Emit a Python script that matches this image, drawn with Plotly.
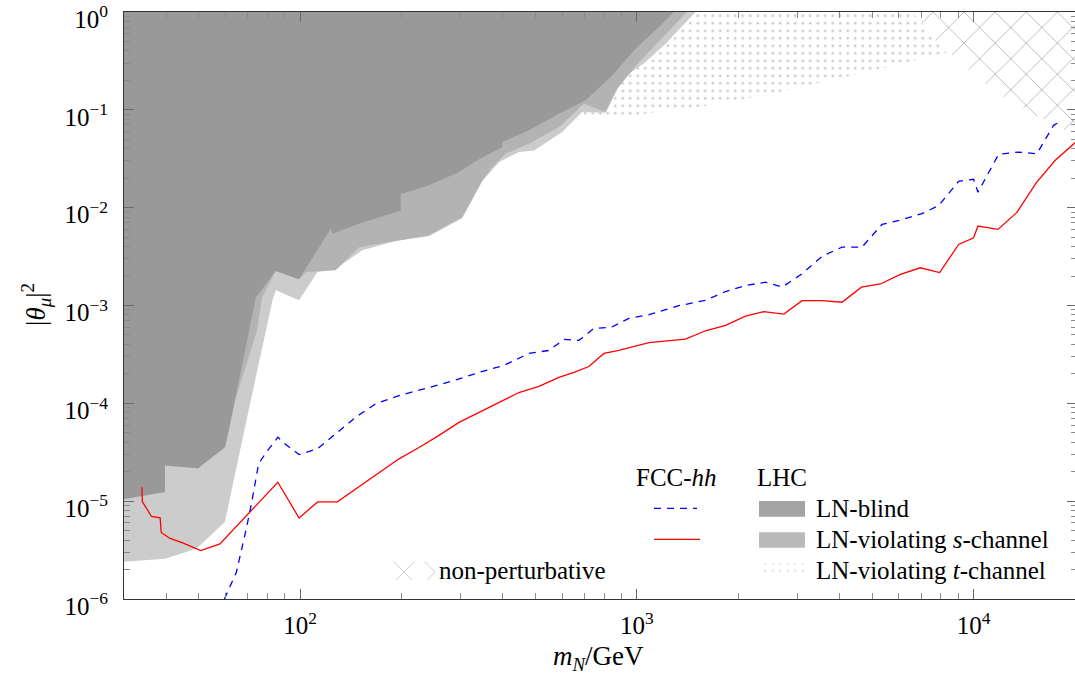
import plotly.graph_objects as go

# ---------------- data ----------------
# FCC-hh, dashed blue
fcc_dash_m = [59.6, 64.7, 69.2, 71.7, 75.3, 79.4, 85.9, 90.1, 99.3, 112.6, 127.6, 146.3, 167.8,
              196.7, 241.4, 286.4, 339.8, 402.9, 478.1, 548.0, 607.3, 672.9, 745.5, 837.1, 947.0,
              1086, 1332, 1599, 1834, 2102, 2409, 2699, 3094, 3546, 4067, 4662, 5345, 6128, 7024,
              7873, 9026, 10000, 10300, 11865, 13600, 15410, 17275, 18100]
fcc_dash_theta = [1.0e-6, 1.88e-6, 5.20e-6, 9.40e-6, 2.41e-5, 3.17e-5, 4.51e-5, 3.86e-5, 2.99e-5,
                  3.43e-5, 4.89e-5, 7.23e-5, 9.9e-5, 1.20e-4, 1.45e-4, 1.71e-4, 2.07e-4, 2.44e-4,
                  3.24e-4, 3.47e-4, 4.50e-4, 4.40e-4, 5.83e-4, 5.97e-4, 7.38e-4, 8.05e-4, 9.95e-4,
                  1.13e-3, 1.39e-3, 1.60e-3, 1.73e-3, 1.54e-3, 2.11e-3, 3.18e-3, 3.95e-3, 3.95e-3,
                  6.75e-3, 7.54e-3, 8.69e-3, 1.05e-2, 1.86e-2, 1.95e-2, 1.44e-2, 3.51e-2, 3.70e-2,
                  3.56e-2, 6.94e-2, 7.6e-2]

# FCC-hh, solid red
fcc_solid_m = [33.9, 34.0, 36.2, 38.4, 38.7, 41.1, 45.0, 50.7, 57.8, 85.9, 99.3, 112.7, 129.0,
               146.3, 196.7, 225.5, 258.5, 296.4, 339.8, 389.4, 446.6, 512.0, 586.8, 650.3, 720.5,
               798.2, 884.5, 1086, 1394, 1599, 1834, 2102, 2382, 2731, 3094, 3546, 4067, 4643,
               5286, 6061, 6947, 7927, 9026, 10000, 10300, 11810, 13446, 15355, 17475, 20000]
fcc_solid_theta = [1.39e-5, 9.93e-6, 6.97e-6, 6.76e-6, 4.79e-6, 4.16e-6, 3.72e-6, 3.13e-6, 3.66e-6,
                   1.56e-5, 6.73e-6, 9.82e-6, 9.86e-6, 1.34e-5, 2.71e-5, 3.54e-5, 4.70e-5, 6.38e-5,
                   8.07e-5, 1.02e-4, 1.29e-4, 1.49e-4, 1.84e-4, 2.07e-4, 2.38e-4, 3.24e-4, 3.47e-4,
                   4.17e-4, 4.53e-4, 5.52e-4, 6.26e-4, 7.79e-4, 8.65e-4, 8.17e-4, 1.12e-3, 1.12e-3,
                   1.08e-3, 1.54e-3, 1.66e-3, 2.08e-3, 2.43e-3, 2.17e-3, 4.21e-3, 4.93e-3, 6.48e-3,
                   6.00e-3, 8.95e-3, 1.80e-2, 3.05e-2, 4.6e-2]

# LHC, LN-blind (lower edge of excluded region)
blind_m = [29, 39.7, 39.7, 49.8, 59.8, 60.8, 73.9, 84.6, 99.3, 123.3, 124.7, 149.7, 199.0, 199.0,
           241.4, 296.4, 339.8, 398.3, 398.3, 478.1, 586.8, 704.4, 844.7, 991, 1162, 1288]
blind_theta = [1.03e-5, 1.24e-5, 2.32e-5, 2.17e-5, 3.56e-5, 4.51e-5, 1.21e-3, 2.25e-3, 1.85e-3,
               6.10e-3, 5.42e-3, 6.86e-3, 9.38e-3, 1.37e-2, 1.69e-2, 2.31e-2, 3.12e-2, 4.14e-2,
               4.69e-2, 6.17e-2, 9.14e-2, 0.125, 0.225, 0.422, 0.703, 1.0]

# LHC, LN-violating s-channel (two analyses)
s1_m = [29, 39.7, 39.7, 49.8, 59.8, 60.8, 64.1, 74.5, 77.1, 84.6, 99.3, 104.0, 127.6, 149.7, 171.6,
        196.7, 241.4, 303.1, 347.5, 372.0, 407.7, 478.1, 586.8, 696.2, 807.4, 874.2, 1013.7, 1203, 1407]
s1_theta = [1.03e-5, 1.24e-5, 2.32e-5, 2.17e-5, 3.56e-5, 4.51e-5, 1.07e-4, 5.56e-4, 1.21e-3, 2.25e-3,
            1.85e-3, 2.20e-3, 2.29e-3, 3.93e-3, 4.28e-3, 4.63e-3, 5.21e-3, 8.01e-3, 1.90e-2, 2.60e-2,
            3.56e-2, 4.51e-2, 6.62e-2, 0.1157, 9.50e-2, 0.1647, 0.306, 0.564, 1.0]
s2_m = [29, 39.7, 49.2, 59.8, 69.3, 82.8, 84.7, 99.3, 112.6, 127.6, 153.0, 192.3, 241.4, 303.1,
        347.5, 372.0, 389.4, 446.6, 494.8, 600.2, 688.2, 807.4, 904.6, 1061, 1217, 1494]
s2_theta = [2.38e-6, 2.58e-6, 3.26e-6, 6.13e-6, 6.68e-5, 1.13e-3, 1.43e-3, 1.13e-3, 2.20e-3, 2.39e-3,
            3.66e-3, 4.55e-3, 5.09e-3, 7.78e-3, 1.86e-2, 2.41e-2, 2.92e-2, 3.70e-2, 3.85e-2, 5.93e-2,
            9.50e-2, 9.31e-2, 0.208, 0.308, 0.475, 1.0]

# LHC, LN-violating t-channel (lower edge)
t_m = [586.8, 704.4, 968.5, 1528, 2409, 3390, 5345, 7698, 11865, 21000]
t_theta = [7.45e-2, 8.13e-2, 8.79e-2, 0.1068, 0.1407, 0.1853, 0.2638, 0.3608, 0.514, 0.731]

# non-perturbative region (lower edge)
np_m = [6560, 7698, 9450, 11865, 15594, 18712, 21000]
np_theta = [1.0, 0.513, 0.274, 0.1464, 8.44e-2, 6.17e-2, 6.0e-2]

x_tick_vals = [100, 1000, 10000]
x_tick_text = ["10<sup>2</sup>", "10<sup>3</sup>", "10<sup>4</sup>"]
y_tick_vals = [1e-6, 1e-5, 1e-4, 1e-3, 1e-2, 1e-1, 1]
y_tick_text = ["10<sup>−6</sup>", "10<sup>−5</sup>", "10<sup>−4</sup>", "10<sup>−3</sup>",
               "10<sup>−2</sup>", "10<sup>−1</sup>", "10<sup>0</sup>"]

# ---------------- styling ----------------
FONT = "Liberation Serif"
FS = 25
FS_TITLE = 27
DARK = "#999999"
MID = "#b3b3b3"
LIGHT = "#cccccc"
W, H = 1077, 677          # plot frame runs 2 px past the window so the right border is hidden
ML, MR, MT, MB = 124, 0, 12, 78
PW, PH = W - ML - MR, H - MT - MB
X_RANGE = [1.47712, 4.30103 + 2 / 337]


def px(xp):
    return (xp - ML) / PW


def py(yp):
    return (H - MB - yp) / PH


def close_top(xs, ys, top=1.4):
    return list(xs) + [xs[-1], xs[0]], list(ys) + [top, top]


fig = go.Figure()

DOTS = dict(shape=".", size=7.5, solidity=0.12, fgcolor="#999999", bgcolor="rgba(255,255,255,0)")
HATCH = dict(shape="x", size=22, solidity=0.08, fgcolor="#707070", bgcolor="white")

# t-channel dotted region
tx, ty = close_top(t_m, t_theta)
fig.add_trace(go.Scatter(x=tx, y=ty, mode="lines", fill="toself", line=dict(width=0),
                         fillcolor="rgba(255,255,255,0)", fillpattern=DOTS,
                         hoverinfo="skip", showlegend=False))

for xs, ys, col in [(s2_m, s2_theta, LIGHT), (s1_m, s1_theta, MID), (blind_m, blind_theta, DARK)]:
    cx, cy = close_top(xs, ys)
    fig.add_trace(go.Scatter(x=cx, y=cy, mode="lines", fill="toself", line=dict(width=0),
                             fillcolor=col, hoverinfo="skip", showlegend=False))

# non-perturbative crosshatch
nx, ny = close_top(np_m, np_theta)
fig.add_trace(go.Scatter(x=nx, y=ny, mode="lines", fill="toself", line=dict(width=0),
                         fillcolor="white", fillpattern=HATCH,
                         hoverinfo="skip", showlegend=False))

fig.add_trace(go.Scatter(x=fcc_solid_m, y=fcc_solid_theta, mode="lines",
                         line=dict(color="#ff0000", width=1.3), hoverinfo="skip", showlegend=False))
fig.add_trace(go.Scatter(x=fcc_dash_m, y=fcc_dash_theta, mode="lines",
                         line=dict(color="#0000ff", width=1.3, dash="7px,6px"),
                         hoverinfo="skip", showlegend=False))


# legend swatches with patterns (on an overlay axis in plot-fraction units)
def rect(x0, x1, y0, y1):
    return [px(x0), px(x1), px(x1), px(x0), px(x0)], [py(y0), py(y0), py(y1), py(y1), py(y0)]


rx, ry = rect(759, 805, 563, 577)
fig.add_trace(go.Scatter(x=rx, y=ry, xaxis="x2", yaxis="y2", mode="lines", fill="toself",
                         line=dict(width=0), fillcolor="rgba(255,255,255,0)",
                         fillpattern=dict(DOTS, fgcolor="#c8c8c8"),
                         hoverinfo="skip", showlegend=False))
rx, ry = rect(388, 435, 561, 580)
fig.add_trace(go.Scatter(x=rx, y=ry, xaxis="x2", yaxis="y2", mode="lines", fill="toself",
                         line=dict(width=0), fillcolor="white",
                         fillpattern=dict(HATCH, fgcolor="#909090"),
                         hoverinfo="skip", showlegend=False))

shapes = [
    dict(type="line", xref="paper", yref="paper", x0=px(654), x1=px(697), y0=py(508.3), y1=py(508.3),
         line=dict(color="#0000ff", width=1.3, dash="7px,6px")),
    dict(type="line", xref="paper", yref="paper", x0=px(654), x1=px(700), y0=py(539.3), y1=py(539.3),
         line=dict(color="#ff0000", width=1.3)),
    dict(type="rect", xref="paper", yref="paper", x0=px(759), x1=px(805), y0=py(516.7), y1=py(501),
         fillcolor="#a3a3a3", line=dict(width=0)),
    dict(type="rect", xref="paper", yref="paper", x0=px(759), x1=px(805), y0=py(547.7), y1=py(532.3),
         fillcolor="#b9b9b9", line=dict(width=0)),
]

tf = dict(family=FONT, size=FS, color="black")
tft = dict(family=FONT, size=FS_TITLE, color="black")
annotations = [
    dict(text="FCC-<i>hh</i>", x=px(676.7), y=py(477), xanchor="center", yanchor="middle", font=tf),
    dict(text="LHC", x=px(781.7), y=py(477), xanchor="center", yanchor="middle", font=tf),
    dict(text="LN-blind", x=px(814), y=py(508.5), xanchor="left", yanchor="middle", font=tf),
    dict(text="LN-violating <i>s</i>-channel", x=px(814), y=py(539.5), xanchor="left",
         yanchor="middle", font=tf),
    dict(text="LN-violating <i>t</i>-channel", x=px(814), y=py(570), xanchor="left",
         yanchor="middle", font=tf),
    dict(text="non-perturbative", x=px(437), y=py(570.5), xanchor="left", yanchor="middle", font=tf),
    dict(text="<i>m</i><sub><i>N</i></sub>/GeV", x=px(598), y=py(658), xanchor="center",
         yanchor="middle", font=tft),
    dict(text="|<i>θ</i><sub><i>μ</i></sub>|<sup>2</sup>", x=px(36), y=py(305), xanchor="center",
         yanchor="middle", textangle=-90, font=tft),
]
for a in annotations:
    a.update(xref="paper", yref="paper", showarrow=False)

x_minor = [k * 10 ** e for e in (1, 2, 3, 4) for k in range(2, 10) if 30 < k * 10 ** e <= 20000]
y_minor = [k * 10.0 ** e for e in range(-6, 0) for k in range(2, 10)]

axis_common = dict(
    showline=True, linecolor="#333333", linewidth=1, mirror="ticks", ticks="inside",
    ticklen=10, tickwidth=1, tickcolor="#6a6a6a", showgrid=False, zeroline=False,
    tickfont=dict(family=FONT, size=FS, color="black"), automargin=False,
    ticklabeloverflow="allow",
)

fig.update_layout(
    width=W, height=H, margin=dict(l=ML, r=MR, t=MT, b=MB, pad=0),
    paper_bgcolor="white", plot_bgcolor="white", showlegend=False,
    xaxis=dict(type="log", range=X_RANGE, tickmode="array", tickvals=x_tick_vals,
               ticktext=x_tick_text, ticklabelstandoff=4,
               minor=dict(tickmode="array", tickvals=x_minor, ticks="inside", ticklen=6,
                          tickcolor="#8a8a8a", tickwidth=1),
               **axis_common),
    yaxis=dict(type="log", range=[-6, 0], tickmode="array", tickvals=y_tick_vals,
               ticktext=y_tick_text, ticklabelstandoff=10, ticklabelshift=7,
               minor=dict(tickmode="array", tickvals=y_minor, ticks="inside", ticklen=6,
                          tickcolor="#8a8a8a", tickwidth=1),
               **axis_common),
    xaxis2=dict(overlaying="x", range=[0, 1], visible=False, fixedrange=True),
    yaxis2=dict(overlaying="y", range=[0, 1], visible=False, fixedrange=True),
    shapes=shapes, annotations=annotations,
    font=dict(family=FONT, size=FS, color="black"),
)

fig.write_html("out.html", config={"displayModeBar": False},
               post_script="document.body.style.margin='0';document.body.style.overflow='hidden';")
